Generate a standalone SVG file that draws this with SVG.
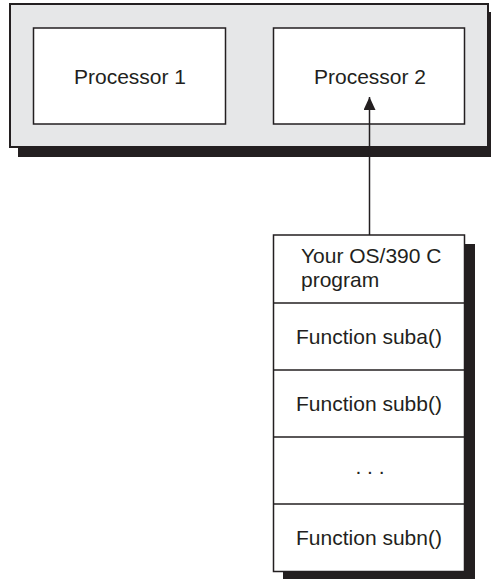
<svg xmlns="http://www.w3.org/2000/svg" width="491" height="579" viewBox="0 0 491 579">
<defs>
<style>
.shadow{fill:#231f20;stroke:none}
.frame{fill:#e6e7e8;stroke:#231f20;stroke-width:2}
.box{fill:#ffffff;stroke:#231f20;stroke-width:1.5}
.lbl{font-family:"Liberation Sans",Arial,sans-serif;font-size:21px;fill:#231f20}
.mid{text-anchor:middle}
.conn{stroke:#231f20;stroke-width:1.5;fill:none}
</style>
<marker id="arrow" viewBox="0 0 13 12" refX="13" refY="6" markerWidth="13" markerHeight="12" markerUnits="userSpaceOnUse" orient="auto">
<path d="M0,0 L13,6 L0,12 Z" fill="#231f20"/>
</marker>
</defs>
<g id="system">
<rect class="shadow" x="18" y="12" width="480" height="145"/>
<rect class="frame" x="10" y="4" width="478" height="143"/>
</g>
<g id="processor1">
<rect class="box" x="33.5" y="28" width="192" height="96"/>
<text class="lbl mid" x="130" y="84">Processor 1</text>
</g>
<g id="processor2">
<rect class="box" x="273.5" y="28" width="191" height="96"/>
<text class="lbl mid" x="370" y="84">Processor 2</text>
</g>
<g id="program">
<rect class="shadow" x="283" y="244" width="192" height="340"/>
<rect class="box" x="273.5" y="235" width="191" height="336.5"/>
<line class="box" x1="273.5" y1="303" x2="464.5" y2="303"/>
<line class="box" x1="273.5" y1="370" x2="464.5" y2="370"/>
<line class="box" x1="273.5" y1="437" x2="464.5" y2="437"/>
<line class="box" x1="273.5" y1="504" x2="464.5" y2="504"/>
<text class="lbl" x="301" y="263">Your OS/390 C</text>
<text class="lbl" x="301" y="287">program</text>
</g>
<g id="suba"><text class="lbl mid" x="369" y="344">Function suba()</text></g>
<g id="subb"><text class="lbl mid" x="369" y="411">Function subb()</text></g>
<g id="dots"><text class="lbl mid" x="370" y="474">. . .</text></g>
<g id="subn"><text class="lbl mid" x="369" y="545">Function subn()</text></g>
<g id="connectors">
<line class="conn" x1="369.5" y1="235" x2="369.5" y2="97" marker-end="url(#arrow)"/>
</g>
</svg>
